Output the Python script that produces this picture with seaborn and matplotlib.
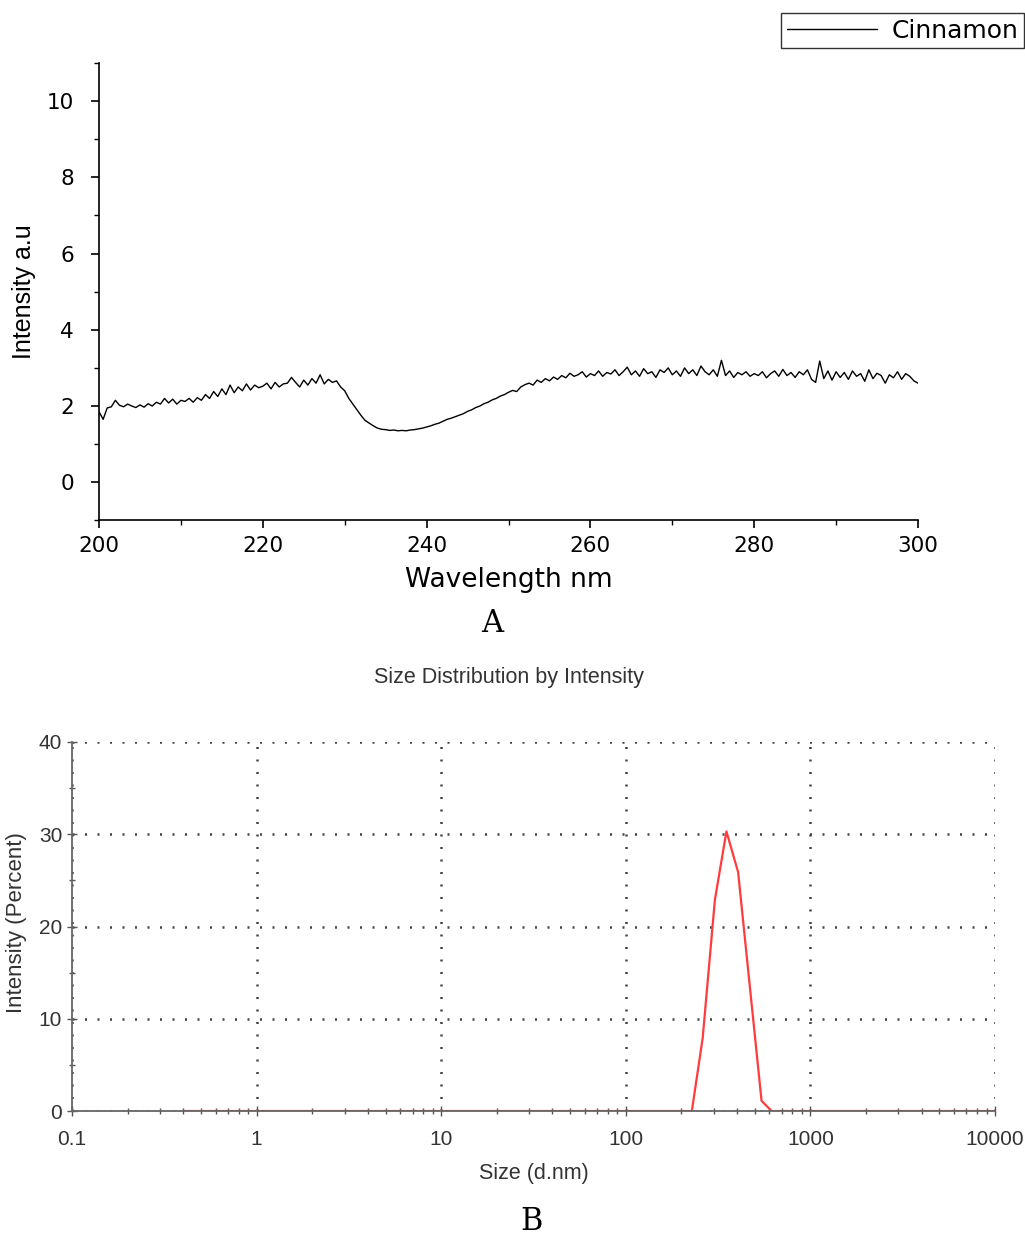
import numpy as np
import pandas as pd
import matplotlib
matplotlib.use('Agg')
import matplotlib.pyplot as plt
import seaborn as sns
from matplotlib.ticker import MultipleLocator, LogLocator, FixedLocator, NullFormatter

intensity_a = [
    1.85,
    1.65, 1.95, 1.98, 2.15, 2.02, 1.98, 2.05, 2.00, 1.96, 2.03, 1.97, 2.06, 2.00, 2.10, 2.05, 2.20, 2.08, 2.18, 2.05, 2.15,
    2.12, 2.20, 2.10, 2.22, 2.15, 2.30, 2.20, 2.38, 2.25, 2.45, 2.30, 2.55, 2.35, 2.50, 2.40, 2.58, 2.42, 2.55, 2.48, 2.52,
    2.60, 2.45, 2.62, 2.50, 2.58, 2.60, 2.75, 2.62, 2.50, 2.68, 2.55, 2.72, 2.60, 2.82, 2.58, 2.70, 2.62, 2.66, 2.50, 2.40,
    2.20, 2.05, 1.90, 1.75, 1.62, 1.55, 1.48, 1.42, 1.39, 1.38, 1.36, 1.37, 1.35, 1.36, 1.35, 1.37, 1.38, 1.40, 1.42, 1.45,
    1.48, 1.52, 1.55, 1.60, 1.65, 1.68, 1.72, 1.76, 1.80, 1.86, 1.90, 1.96, 2.00, 2.06, 2.10, 2.16, 2.20, 2.26, 2.30, 2.36,
    2.41, 2.38, 2.50, 2.56, 2.60, 2.55, 2.68, 2.62, 2.72, 2.66, 2.76, 2.70, 2.80, 2.74, 2.86, 2.78, 2.82, 2.90, 2.76, 2.85,
    2.80, 2.92, 2.78, 2.88, 2.84, 2.95, 2.80, 2.90, 3.02, 2.82, 2.92, 2.78, 2.98, 2.85, 2.90, 2.75, 2.95, 2.88, 3.00, 2.82,
    2.92, 2.78, 3.00, 2.85, 2.95, 2.80, 3.05, 2.90, 2.82, 2.95, 2.78, 3.20, 2.80, 2.92, 2.75, 2.88, 2.82, 2.90, 2.78, 2.85,
    2.80, 2.90, 2.74, 2.85, 2.92, 2.78, 2.96, 2.80, 2.88, 2.75, 2.90, 2.82, 2.95, 2.70, 2.62, 3.18, 2.72, 2.92, 2.68, 2.90,
    2.75, 2.88, 2.70, 2.92, 2.78, 2.85, 2.65, 2.95, 2.72, 2.86, 2.80, 2.60, 2.82, 2.74, 2.90, 2.70, 2.85, 2.78, 2.66, 2.60,
]
wavelength_a = np.linspace(200, 300, len(intensity_a))

# Panel B: DLS size distribution
size_b = [0.4, 228, 261, 304, 351, 406, 544, 617, 10000]
percent_b = [0, 0, 7.9, 22.9, 30.3, 25.9, 1.1, 0, 0]

df_a = pd.DataFrame({'wavelength': wavelength_a, 'intensity': intensity_a})
df_b = pd.DataFrame({'size': size_b, 'percent': percent_b})

sns.set_style('ticks')
plt.rcParams['font.family'] = ['DejaVu Sans']
plt.rcParams['text.color'] = 'black'
plt.rcParams['axes.labelcolor'] = 'black'

fig = plt.figure(figsize=(10.25, 12.36), dpi=100)
sans = ['Liberation Sans', 'DejaVu Sans']

# ---- A ----
ax1 = fig.add_axes([0.0966, 0.579, 0.799, 0.370])
sns.lineplot(data=df_a, x='wavelength', y='intensity', color='black', lw=1.0,
             label='Cinnamon', ax=ax1)
ax1.set_xlim(200, 300)
ax1.set_ylim(-1, 11)
ax1.xaxis.set_major_locator(MultipleLocator(20))
ax1.xaxis.set_minor_locator(MultipleLocator(10))
ax1.yaxis.set_major_locator(FixedLocator([0, 2, 4, 6, 8, 10]))
ax1.yaxis.set_minor_locator(FixedLocator([-1, 1, 3, 5, 7, 9, 11]))
ax1.tick_params(which='major', direction='out', length=6, width=1.2, labelsize=15.5,
                colors='black', pad=5)
ax1.tick_params(axis='y', which='major', pad=12)
ax1.tick_params(which='minor', direction='out', length=3.5, width=1.0, colors='black')
for s in ['top', 'right']:
    ax1.spines[s].set_visible(False)
for s in ['left', 'bottom']:
    ax1.spines[s].set_linewidth(1.2)
    ax1.spines[s].set_color('black')
ax1.set_xlabel('Wavelength nm', fontsize=19, labelpad=8)
ax1.set_ylabel('Intensity a.u', fontsize=18, labelpad=8, family=sans)
ax1.legend(loc='upper right', bbox_to_anchor=(1024 / 1025, 1 - 13 / 1236),
           bbox_transform=fig.transFigure, frameon=True, fancybox=False,
           edgecolor='black', fontsize=18, handlelength=3.6, borderpad=0.22,
           handletextpad=0.6, borderaxespad=0)
ax1.get_legend().get_frame().set_linewidth(1.0)

fig.text(492 / 1025, 1 - 624 / 1236, 'A', fontsize=22, ha='center', va='center',
         family=['DejaVu Serif'])

# ---- B ----
gray = '#333333'
ax2 = fig.add_axes([0.0702, 0.1011, 0.9005, 0.2986])
sns.lineplot(data=df_b, x='size', y='percent', color='#ff3b3b', lw=1.6, ax=ax2)
ax2.set_xscale('log')
ax2.set_xlim(0.1, 10000)
ax2.set_ylim(0, 40)
ax2.xaxis.set_minor_locator(LogLocator(base=10, subs=np.arange(2, 10), numticks=20))
ax2.xaxis.set_minor_formatter(NullFormatter())
ax2.set_xticks([0.1, 1, 10, 100, 1000, 10000])
ax2.set_xticklabels(['0.1', '1', '10', '100', '1000', '10000'])
ax2.yaxis.set_major_locator(MultipleLocator(10))
ax2.yaxis.set_minor_locator(MultipleLocator(5))
ax2.grid(True, which='major', color='#444444', linestyle=(0, (0.8, 4.2)), lw=1.8)
ax2.tick_params(which='major', direction='inout', length=7, width=1.0, color='#555555',
                labelsize=15, labelcolor=gray)
ax2.tick_params(axis='x', which='major', pad=10)
ax2.tick_params(which='minor', direction='inout', length=5, width=1.0, color='#555555')
for s in ['top', 'right']:
    ax2.spines[s].set_visible(False)
for s in ['left', 'bottom']:
    ax2.spines[s].set_color('#666666')
    ax2.spines[s].set_linewidth(1.3)
for lab in ax2.get_xticklabels() + ax2.get_yticklabels():
    lab.set_family(sans)
ax2.set_xlabel('Size (d.nm)', fontsize=15.5, color=gray, labelpad=10, family=sans)
ax2.set_ylabel('Intensity (Percent)', fontsize=16, color=gray, family=sans)
ax2.yaxis.set_label_coords(-0.049, 0.51)
fig.text(509 / 1025, 1 - 677 / 1236, 'Size Distribution by Intensity', fontsize=15.5,
         color=gray, ha='center', va='center', family=sans)

fig.text(532 / 1025, 1 - 1221 / 1236, 'B', fontsize=22, ha='center', va='center',
         family=['DejaVu Serif'])

fig.savefig('out.png', dpi=100)
